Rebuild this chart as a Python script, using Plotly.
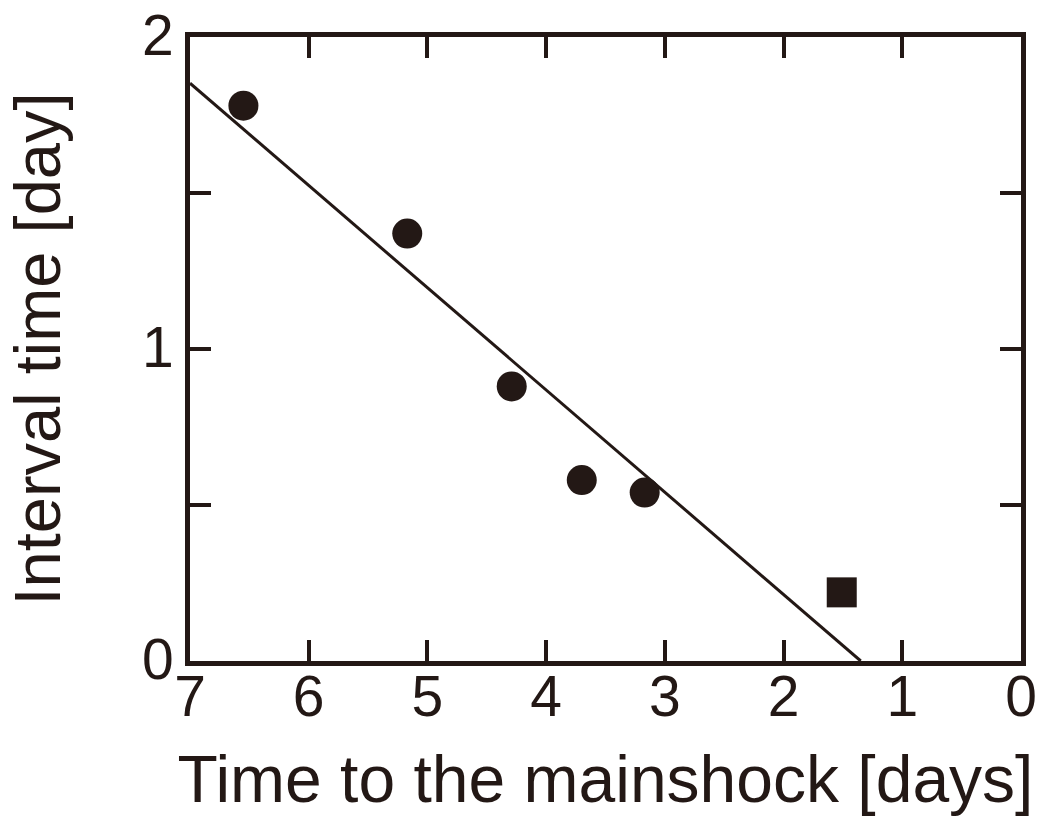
import plotly.graph_objects as go

# Foreshock sequence: time remaining before the mainshock vs. interval time
days_to_mainshock = [6.55, 5.17, 4.29, 3.70, 3.17]
interval_days = [1.78, 1.37, 0.88, 0.58, 0.54]

# Last interval (plotted separately as a square)
last_days_to_mainshock = [1.51]
last_interval_days = [0.22]

# Linear fit through the circles
fit_x = [7.0, 1.35]
fit_y = [1.852, 0.0]

x_ticks = [7, 6, 5, 4, 3, 2, 1, 0]
y_ticks = [0, 0.5, 1, 1.5, 2]
y_tick_text = ["0", "", "1", "", "2"]

INK = "#231815"
FONT = "Liberation Sans, Arial, Helvetica, sans-serif"

fig = go.Figure()

fig.add_trace(go.Scatter(
    x=fit_x, y=fit_y, mode="lines",
    line=dict(color=INK, width=3),
    showlegend=False, hoverinfo="skip",
))
fig.add_trace(go.Scatter(
    x=days_to_mainshock, y=interval_days, mode="markers",
    marker=dict(symbol="circle", size=30, color=INK),
    showlegend=False,
))
fig.add_trace(go.Scatter(
    x=last_days_to_mainshock, y=last_interval_days, mode="markers",
    marker=dict(symbol="square", size=30, color=INK),
    showlegend=False,
))

axis_common = dict(
    showline=True, linewidth=5, linecolor=INK,
    mirror="ticks", ticks="inside", ticklen=21, tickwidth=4, tickcolor=INK,
    showgrid=False, zeroline=False, automargin=False,
    ticklabeloverflow="allow",
    tickfont=dict(family=FONT, size=57, color=INK),
)

fig.update_xaxes(
    range=[7, 0], tickvals=x_ticks, ticktext=[str(v) for v in x_ticks],
    ticklabelstandoff=-18,
    title=dict(text="Time to the mainshock [days]",
               font=dict(family=FONT, size=66, color=INK), standoff=30),
    **axis_common,
)
fig.update_yaxes(
    range=[0, 2], tickvals=y_ticks, ticktext=y_tick_text,
    ticklabelshift=-2,
    title=dict(text="Interval time [day]",
               font=dict(family=FONT, size=65, color=INK), standoff=62),
    **axis_common,
)

fig.update_layout(
    width=1051, height=818,
    margin=dict(l=190, r=30, t=37, b=157),
    plot_bgcolor="white", paper_bgcolor="white",
)

fig.write_html("out.html")
